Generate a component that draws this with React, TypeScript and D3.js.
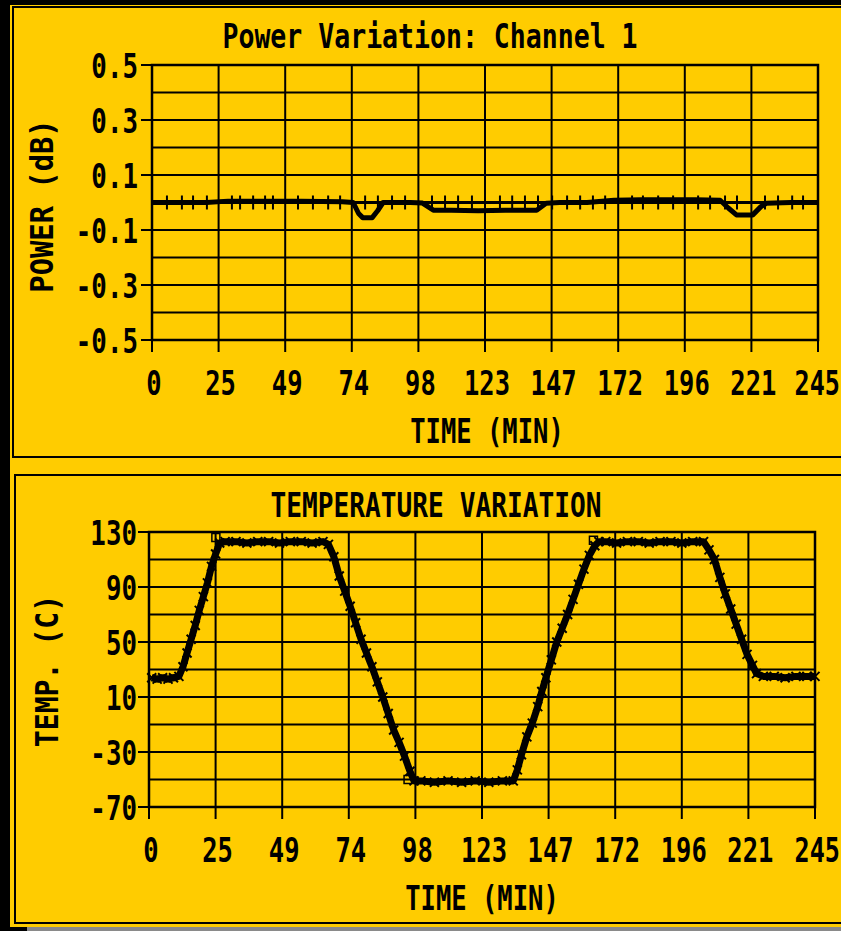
import React from "react";
import * as d3 from "d3";

// ---------- data ----------
const TIME_TICKS = [0, 24.5, 49, 73.5, 98, 122.5, 147, 171.5, 196, 220.5, 245];
const TIME_LABELS = ["0", "25", "49", "74", "98", "123", "147", "172", "196", "221", "245"];

const POWER_GRID = [-0.5, -0.4, -0.3, -0.2, -0.1, 0, 0.1, 0.2, 0.3, 0.4, 0.5];
const POWER_TICKS = [0.5, 0.3, 0.1, -0.1, -0.3, -0.5];
const POWER_LABELS = ["0.5", "0.3", "0.1", "-0.1", "-0.3", "-0.5"];

const TEMP_GRID = [-70, -50, -30, -10, 10, 30, 50, 70, 90, 110, 130];
const TEMP_TICKS = [130, 90, 50, 10, -30, -70];
const TEMP_LABELS = ["130", "90", "50", "10", "-30", "-70"];

// channel 1 power trace (dB)
const POWER_TIME = [0, 10, 20, 28, 40, 55, 70, 74, 76, 77.5, 81, 83, 85, 90, 95, 99.5, 103.5, 110, 120, 130, 141.5, 145, 150, 160, 170, 180, 190, 200, 209, 212, 215, 221, 224, 226, 235, 245];
const POWER_VALUE = [0, 0, 0, 0.005, 0.005, 0.005, 0.003, 0, -0.04, -0.055, -0.055, -0.03, 0, 0, 0, -0.002, -0.028, -0.028, -0.03, -0.028, -0.028, -0.003, 0, 0, 0.008, 0.01, 0.01, 0.01, 0.008, -0.02, -0.045, -0.045, -0.015, -0.003, 0, 0];

// reference trace (0 dB) with its markers
const REF_TIME = [0, 245];
const REF_VALUE = [0, 0];
const REF_MARK_TIME = [5.5, 11, 15.1, 20.2, 29.4, 32.4, 37.2, 41.6, 44.5, 53.7, 59.2, 64.8, 69.2, 78.4, 83.1, 88.3, 93.1, 103, 107.8, 112.6, 117.7, 128, 132.5, 137.2, 142, 147.2, 152.7, 157.5, 162.2, 166.7, 176.6, 180.6, 186.2, 191.7, 200.9, 205.3, 210.8, 215.2, 225.5, 230.3, 235.5, 239.5];

// temperature (C)
const TEMP_TIME = [1, 3, 5, 7, 9, 11, 12.5, 14, 15.5, 17, 18.5, 20, 21.5, 23, 24.5, 26, 28, 32, 36, 40, 44, 48, 52, 56, 60, 64, 66, 68, 70, 72, 74, 76, 78, 80, 82, 84, 86, 88, 90, 92, 94, 96, 97.5, 100, 105, 110, 115, 120, 125, 130, 134, 135.5, 137, 139, 141, 143, 144.5, 146, 148, 150, 152, 154, 156, 158, 160, 162, 164, 165.5, 168, 172, 176, 180, 184, 188, 192, 196, 200, 204, 206, 208, 210, 212, 214, 216, 218, 220, 222, 223.5, 226, 230, 234, 238, 242, 245];
const TEMP_VALUE = [24, 23, 24, 23, 24, 25, 32, 42, 52, 62, 73, 83, 93, 105, 114, 122, 123, 123, 122, 123, 123, 122, 123, 123, 122, 123, 121, 112, 98, 87, 76, 64, 52, 42, 32, 21, 10, -2, -14, -23, -33, -44, -51, -51, -52, -51, -52, -51, -52, -51, -51, -43, -32, -19, -9, 3, 14, 24, 37, 50, 60, 70, 81, 92, 103, 113, 120, 123, 123, 122, 123, 123, 122, 123, 123, 122, 123, 123, 117, 110, 97, 85, 74, 63, 52, 41, 33, 27, 25, 25, 24, 25, 25, 25];
const SQUARE_TIME = [24.6, 95.3, 163.5];
const SQUARE_VALUE = [126, -50, 124];

// ---------- style ----------
const YELLOW = "#FFCC00";
const INK = "#000";
const FONT = "'DejaVu Sans Mono', monospace";

function Label({ x, y, text, size = 34, sx = 0.76, anchor = "middle", rotate = 0 }: any) {
  return (
    <text
      transform={`translate(${x},${y}) rotate(${rotate}) scale(${sx},1)`}
      textAnchor={anchor}
      fontFamily={FONT}
      fontWeight="bold"
      fontSize={size}
      fill={INK}
    >
      {text}
    </text>
  );
}

function PlotFrame({ x, y, yGrid, yTicks, yLabels, labelRight, xLabelBase }: any) {
  const [x0, x1] = x.range();
  const [yb, yt] = y.range();
  const last = TIME_TICKS.length - 1;
  return (
    <g>
      {TIME_TICKS.map((t: number, i: number) => (
        <line key={"v" + i} x1={x(t)} x2={x(t)} y1={yt} y2={yb + 12} stroke={INK} strokeWidth={2} />
      ))}
      {yGrid.map((v: number, i: number) => (
        <line key={"h" + i} x1={x0} x2={x1} y1={y(v)} y2={y(v)} stroke={INK} strokeWidth={2} />
      ))}
      {yTicks.map((v: number, i: number) => (
        <line key={"t" + i} x1={x0 - 11} x2={x0} y1={y(v)} y2={y(v)} stroke={INK} strokeWidth={2} />
      ))}
      <rect x={x0} y={yt} width={x1 - x0} height={yb - yt} fill="none" stroke={INK} strokeWidth={2.5} />
      {yTicks.map((v: number, i: number) => (
        <Label key={"yl" + i} x={labelRight} y={y(v) + 12.5} text={yLabels[i]} anchor="end" sx={0.76} />
      ))}
      {TIME_TICKS.map((t: number, i: number) =>
        i === last ? (
          <Label key={"xl" + i} x={840} y={xLabelBase} text={TIME_LABELS[i]} anchor="end" sx={0.74} />
        ) : (
          <Label key={"xl" + i} x={x(t) + 2} y={xLabelBase} text={TIME_LABELS[i]} sx={0.75} />
        )
      )}
    </g>
  );
}

export default function App() {
  // power panel scales
  const px = d3.scaleLinear().domain([0, 245]).range([152, 818]);
  const py = d3.scaleLinear().domain([-0.5, 0.5]).range([340, 65]);
  // temperature panel scales
  const tx = d3.scaleLinear().domain([0, 245]).range([149, 815]);
  const ty = d3.scaleLinear().domain([-70, 130]).range([807, 532]);

  const powerLine = d3.line<number>().x((_, i) => px(POWER_TIME[i])).y((d) => py(d));
  const refLine = d3.line<number>().x((_, i) => px(REF_TIME[i])).y((d) => py(d));
  const tempLine = d3.line<number>().x((_, i) => tx(TEMP_TIME[i])).y((d) => ty(d));

  return (
    <svg
      width={841}
      height={931}
      viewBox="0 0 841 931"
      style={{ position: "absolute", left: 0, top: 0, display: "block" }}
    >
      <rect x={0} y={0} width={841} height={931} fill="#000" />
      <rect x={10} y={5} width={831} height={922} fill={YELLOW} />
      <rect x={27} y={927} width={814} height={4} fill="#8a8a8a" />

      {/* panel frames */}
      <rect x={13} y={7} width={840} height={450} fill="none" stroke={INK} strokeWidth={2} />
      <rect x={15} y={475} width={840} height={448} fill="none" stroke={INK} strokeWidth={2} />

      {/* ---- Power panel ---- */}
      <Label x={430} y={48} text="Power Variation: Channel 1" sx={0.78} />
      <PlotFrame x={px} y={py} yGrid={POWER_GRID} yTicks={POWER_TICKS} yLabels={POWER_LABELS} labelRight={138} xLabelBase={395} />
      <Label x={487} y={443} text="TIME (MIN)" sx={0.75} />
      <Label x={53} y={206} text="POWER (dB)" rotate={-90} size={32} sx={0.9} />

      <path d={refLine(REF_VALUE) || ""} fill="none" stroke={INK} strokeWidth={3} />
      {REF_MARK_TIME.map((t, i) => (
        <line key={"rm" + i} x1={px(t)} x2={px(t)} y1={py(0) - 7} y2={py(0) + 7} stroke={INK} strokeWidth={2} />
      ))}
      <path d={powerLine(POWER_VALUE) || ""} fill="none" stroke={INK} strokeWidth={5} strokeLinejoin="round" />

      {/* ---- Temperature panel ---- */}
      <Label x={436} y={517} text="TEMPERATURE VARIATION" sx={0.77} />
      <PlotFrame x={tx} y={ty} yGrid={TEMP_GRID} yTicks={TEMP_TICKS} yLabels={TEMP_LABELS} labelRight={137} xLabelBase={862} />
      <Label x={482} y={910} text="TIME (MIN)" sx={0.75} />
      <Label x={58} y={671} text="TEMP. (C)" rotate={-90} size={32} sx={0.88} />

      <path d={tempLine(TEMP_VALUE) || ""} fill="none" stroke={INK} strokeWidth={7} strokeLinejoin="round" />
      {TEMP_VALUE.map((v, i) => (
        <path
          key={"tc" + i}
          transform={`translate(${tx(TEMP_TIME[i])},${ty(v)})`}
          d="M-4.5,-4.5L4.5,4.5M-4.5,4.5L4.5,-4.5"
          stroke={INK}
          strokeWidth={2}
        />
      ))}
      {SQUARE_VALUE.map((v, i) => (
        <rect
          key={"sq" + i}
          x={tx(SQUARE_TIME[i]) - 4}
          y={ty(v) - 4}
          width={8}
          height={8}
          fill="none"
          stroke={INK}
          strokeWidth={1.5}
        />
      ))}
    </svg>
  );
}
